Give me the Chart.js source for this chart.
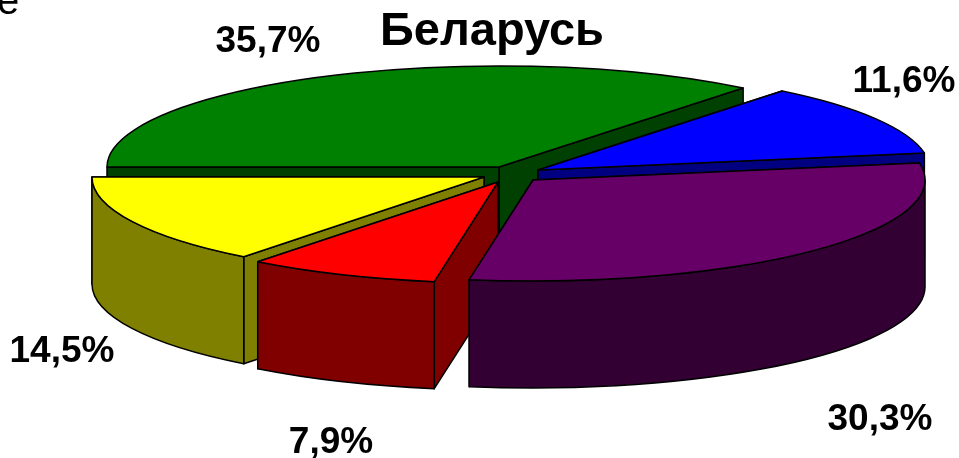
<!DOCTYPE html>
<html><head><meta charset="utf-8">
<style>html,body{margin:0;padding:0;background:#fff}canvas{display:block}</style>
<script src="https://cdn.jsdelivr.net/npm/chart.js@4/dist/chart.umd.js"></script>
</head><body><canvas id="c" width="959" height="458"></canvas>
<script>
const titleText = 'Беларусь';
const categories = ['A','B','C','D','E'];
const values = [35.7, 11.6, 30.3, 7.9, 14.5];
const tickLabels = ['35,7%','11,6%','30,3%','7,9%','14,5%'];
const topColors = ['#008000','#0000ff','#660066','#ff0000','#ffff00'];
const wallColors = ['#004000','#000080','#330033','#800000','#808000'];
// layout of the exploded 3D projection
const pieCentre = {x:505, y:174};
const sliceShift = [[-6,-7],[33,-4],[28,6],[-7,8],[-21,3]];
const radiusX = 392, radiusY = 101, depth = 107;
const drawOrder = [0,1,4,3,2];
const labelAnchors = [[268,42],[904,82],[880,420],[331,443],[62,352]];

const pie3d = {
  id:'pie3d',
  beforeDatasetDraw(chart,args){
    const ctx = chart.ctx, arcs = args.meta.data;
    const R = arcs[0].outerRadius;
    const trace = (cx,cy,a0,a1,ccw)=>ctx.ellipse(cx,cy,radiusX,radiusY,0,a0,a1,!!ccw);
    ctx.save();
    ctx.lineWidth = 1.5; ctx.strokeStyle = '#000'; ctx.lineJoin = 'round';
    drawOrder.forEach(i=>{
      const el = arcs[i];
      const ax = pieCentre.x + sliceShift[i][0], ay = pieCentre.y + sliceShift[i][1];
      const a0 = el.startAngle, a1 = el.endAngle;
      ctx.fillStyle = wallColors[i];
      // radial cut walls, the one further back first
      [a0,a1].sort((p,q)=>Math.sin(p)-Math.sin(q)).forEach(a=>{
        const px = ax + Math.cos(a)*radiusX, py = ay + Math.sin(a)*radiusY;
        ctx.beginPath(); ctx.moveTo(ax,ay); ctx.lineTo(px,py); ctx.lineTo(px,py+depth); ctx.lineTo(ax,ay+depth); ctx.closePath();
        ctx.fill(); ctx.stroke();
      });
      // front part of the rim
      for (const k of [0,2,-2]) {
        const s = Math.max(a0,k*Math.PI), e = Math.min(a1,(k+1)*Math.PI);
        if (e > s) {
          ctx.beginPath(); trace(ax,ay,s,e); trace(ax,ay+depth,e,s,true); ctx.closePath();
          ctx.fill(); ctx.stroke();
        }
      }
      // top face: the library's own arc element under the projection
      ctx.save();
      ctx.translate(ax,ay); ctx.scale(radiusX/R,radiusY/R); ctx.translate(-el.x,-el.y);
      el.draw(ctx);
      ctx.restore();
      ctx.beginPath(); ctx.moveTo(ax,ay); trace(ax,ay,a0,a1); ctx.closePath(); ctx.stroke();
    });
    ctx.restore();
    return false;
  },
  afterDatasetsDraw(chart){
    const ctx = chart.ctx;
    ctx.save();
    ctx.fillStyle = '#000'; ctx.textAlign='center'; ctx.textBaseline='middle';
    ctx.font = 'bold 37px "Liberation Sans"';
    tickLabels.forEach((t,i)=>ctx.fillText(t,labelAnchors[i][0],labelAnchors[i][1]));
    ctx.textAlign='left'; ctx.textBaseline='alphabetic';
    ctx.font = '40px "Liberation Sans"';
    ctx.fillText('e',-3,14);
    ctx.restore();
  }
};

new Chart(document.getElementById('c'),{
  type:'pie',
  data:{labels:categories,datasets:[{data:values,backgroundColor:topColors,borderWidth:0}]},
  options:{
    responsive:false, animation:false, rotation:270,
    layout:{padding:{left:25}},
    events:[],
    plugins:{
      legend:{display:false}, tooltip:{enabled:false},
      title:{display:true,text:titleText,color:'#000',padding:{top:4,bottom:4},
        font:{family:'"Liberation Sans"',size:47,weight:'bold'}}
    }
  },
  plugins:[pie3d]
});
</script></body></html>
